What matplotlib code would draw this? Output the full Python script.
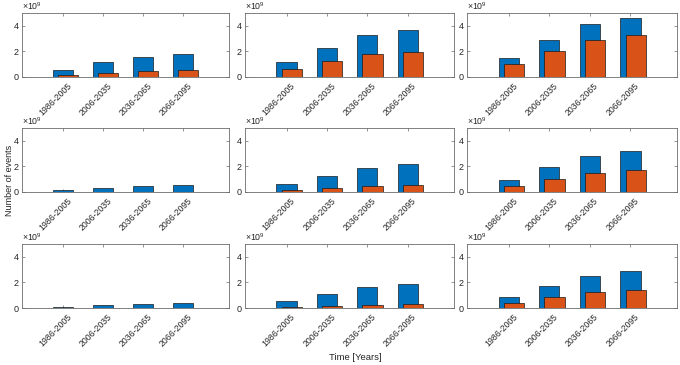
import numpy as np
import matplotlib
matplotlib.use("Agg")
import matplotlib.pyplot as plt
import matplotlib.transforms as mtransforms

plt.rcParams['font.family'] = ['Liberation Sans', 'DejaVu Sans']
plt.rcParams['mathtext.fontset'] = 'custom'
plt.rcParams['mathtext.rm'] = 'Liberation Sans'
plt.rcParams['mathtext.it'] = 'Liberation Sans'

periods = ['1986-2005', '2006-2035', '2036-2065', '2066-2095']

# values in units of 1e9, rows top -> bottom, columns left -> right
blue_vals = [
    [[0.57, 1.14, 1.58, 1.82], [1.17, 2.26, 3.27, 3.66], [1.48, 2.88, 4.16, 4.62]],
    [[0.16, 0.34, 0.50, 0.58], [0.65, 1.28, 1.91, 2.20], [0.94, 1.93, 2.85, 3.22]],
    [[0.10, 0.21, 0.31, 0.36], [0.57, 1.12, 1.64, 1.90], [0.86, 1.71, 2.52, 2.86]],
]
orange_vals = [
    [[0.16, 0.34, 0.49, 0.57], [0.62, 1.22, 1.79, 1.97], [1.01, 2.00, 2.88, 3.27]],
    [[0.0, 0.0, 0.0, 0.0], [0.16, 0.31, 0.47, 0.55], [0.47, 0.99, 1.52, 1.73]],
    [[0.0, 0.0, 0.0, 0.0], [0.10, 0.18, 0.26, 0.31], [0.42, 0.83, 1.25, 1.40]],
]

W, H = 680, 365
fig = plt.figure(figsize=(W / 100, H / 100), dpi=100)

col_left = [22, 245, 467]
col_w = [207, 209, 210]
row_bottom = [77, 192, 308]
row_h = 64

blue = '#0072BD'
orange = '#D95319'
axcol = '#6b6b6b'
x = np.arange(1, 5)
shift = mtransforms.ScaledTranslation(4 / 100, -4 / 100, fig.dpi_scale_trans)

for r in range(3):
    for c in range(3):
        ax = fig.add_axes([col_left[c] / W, 1 - row_bottom[r] / H, col_w[c] / W, row_h / H])
        ax.bar(x, blue_vals[r][c], width=0.5, color=blue, edgecolor='#1a1a1a', linewidth=0.5, zorder=2)
        ax.bar(x + 0.13, orange_vals[r][c], width=0.5, color=orange, edgecolor='#1a1a1a', linewidth=0.5, zorder=3)
        ax.set_xlim(-0.03, 5.15)
        ax.set_ylim(0, 5)
        ax.set_yticks([0, 2, 4])
        ax.set_xticks(x)
        ax.set_xticklabels([])
        trans = mtransforms.blended_transform_factory(ax.transData, ax.transAxes) + shift
        for xi, lab in zip(x, periods):
            ax.text(xi, 0, lab, transform=trans, rotation=45, ha='right', va='top',
                    rotation_mode='anchor', fontsize=6.3, color='#262626', clip_on=False)
        ax.tick_params(direction='in', top=True, right=True, length=2.5, width=0.5,
                       colors=axcol, labelcolor='#262626', labelsize=6.5, pad=2.5)
        for s in ax.spines.values():
            s.set_color(axcol)
            s.set_linewidth(0.6)
            s.set_zorder(5)
        ax.text(0, 1.02, r'$\times10^{9}$', transform=ax.transAxes, fontsize=6.3,
                color='#262626', ha='left', va='bottom')

fig.text(10 / W, 1 - 180 / H, 'Number of events', rotation=90, fontsize=6.5,
         color='#262626', ha='center', va='center')
fig.text(355 / W, 1 - 357 / H, 'Time [Years]', fontsize=6.8,
         color='#262626', ha='center', va='center')

fig.savefig('out.png', dpi=100)
